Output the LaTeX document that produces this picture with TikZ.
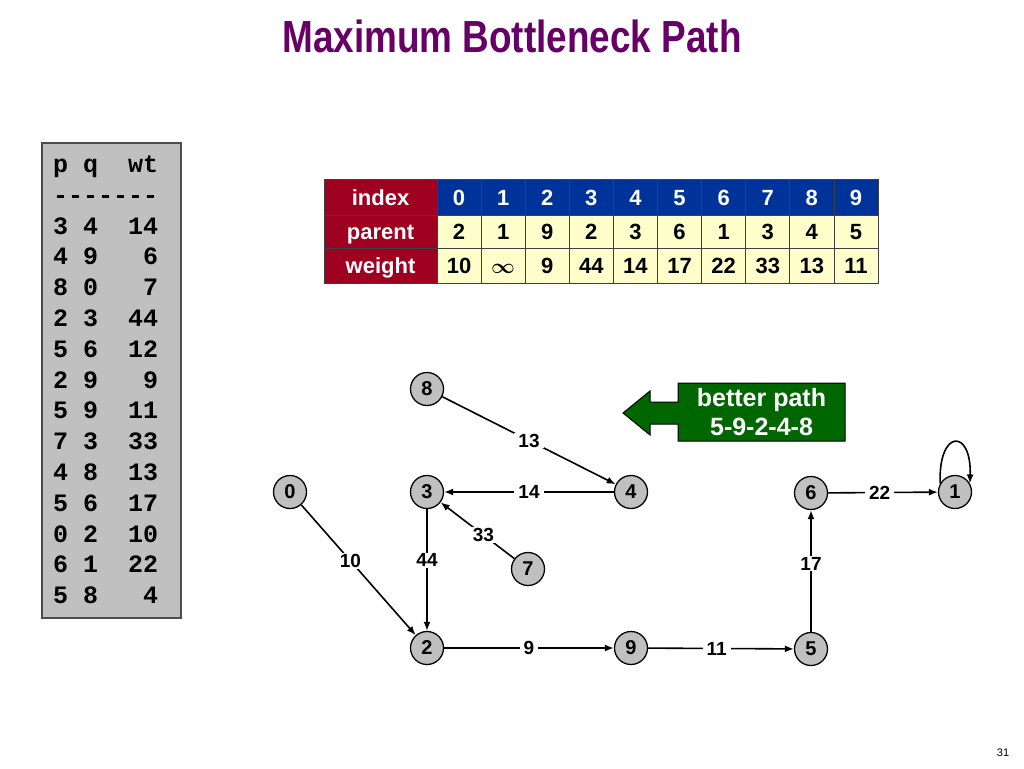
\documentclass[tikz,border=0pt]{standalone}
\usepackage{fontspec}
\setmainfont{Liberation Sans}
\setmonofont{Liberation Mono}
\usepackage{xcolor}
\usetikzlibrary{arrows.meta}
\definecolor{titlepurple}{RGB}{102,0,102}
\definecolor{hdred}{RGB}{160,0,32}
\definecolor{idxblue}{RGB}{0,51,153}
\definecolor{cellyellow}{RGB}{255,255,204}
\definecolor{vgray}{RGB}{192,192,192}
\definecolor{pathgreen}{RGB}{0,102,0}
\newcommand{\infwt}{\mbox{\boldmath$\infty$}}

\begin{document}
\begin{tikzpicture}[x=1pt,y=-1pt,
  vertex/.style={circle,draw,line width=1.3pt,fill=vgray,minimum size=33pt,inner sep=0pt,font=\bfseries\fontsize{20}{20}\selectfont},
  wt/.style={fill=white,inner xsep=4pt,inner ysep=1pt,font=\bfseries\fontsize{19}{19}\selectfont},
  arr/.style={line width=1.6pt,-{Latex[length=9pt,width=7pt]}},
  cell/.style={draw=black!75,line width=0.8pt,minimum width=44.1pt,inner sep=0pt,text height=16pt,text depth=0pt,font=\bfseries\fontsize{22}{22}\selectfont},
  hd/.style={cell,fill=hdred,text=white,minimum width=113pt},
  edgerow/.style={anchor=west,inner sep=0pt,text height=15pt,text depth=0pt,font=\ttfamily\bfseries\fontsize{25}{25}\selectfont}
]
\useasboundingbox (0,0) rectangle (1024,768);
\node (title) at (512,36) {\scalebox{0.82}[1]{\color{titlepurple}\bfseries\fontsize{45}{45}\selectfont Maximum Bottleneck Path}};
% edge list
\draw[fill=vgray,draw=black!70,line width=1.5pt] (42,143) rectangle (181,618);
\foreach\x[count=\i from 0] in {p~q~~wt,-------,3~4~~14,4~9~~~6,8~0~~~7,2~3~~44,5~6~~12,2~9~~~9,5~9~~11,7~3~~33,4~8~~13,5~6~~17,0~2~~10,6~1~~22,5~8~~~4}{\node[edgerow] (row\i) at (53,165+30.8*\i){\x};};
% table
\node[hd,minimum height=36pt] (hidx) at (380.5,197) {index};
\node[hd,minimum height=33pt] (hpar) at (380.5,231.5) {parent};
\node[hd,minimum height=35pt] (hwt) at (380.5,265.5) {weight};
\foreach\i in {0,...,9}{\node[cell,fill=idxblue,text=white,minimum height=36pt] (idx\i) at (459.05+44.1*\i,197){\i};};
\foreach\x[count=\i from 0] in {2,1,9,2,3,6,1,3,4,5}{\node[cell,fill=cellyellow,minimum height=33pt] (par\i) at (459.05+44.1*\i,231.5){\x};};
\foreach\x[count=\i from 0] in {10,\infwt,9,44,14,17,22,33,13,11}{\node[cell,fill=cellyellow,minimum height=35pt] (wt\i) at (459.05+44.1*\i,265.5){\x};};
% graph
\node[vertex] (n8) at (427,389) {8};
\node[vertex] (n0) at (290,492) {0};
\node[vertex] (n3) at (427,492) {3};
\node[vertex] (n4) at (631,492) {4};
\node[vertex] (n7) at (528,569) {7};
\node[vertex] (n2) at (427,648) {2};
\node[vertex] (n9) at (631,648) {9};
\node[vertex] (n5) at (811,649) {5};
\node[vertex] (n6) at (811,493) {6};
\node[vertex] (n1) at (955,492) {1};
\draw[arr] (n8) -- node[wt,pos=0.5] {13} (n4);
\draw[arr] (n4) -- node[wt] {14} (n3);
\draw[arr] (n7) -- node[wt,pos=0.42] {33} (n3);
\draw[arr] (n3) -- node[wt,pos=0.42] {44} (n2);
\draw[arr] (n0) -- node[wt,pos=0.43] {10} (n2);
\draw[arr] (n2) -- node[wt] {9} (n9);
\draw[arr] (n9) -- node[wt,pos=0.47] {11} (n5);
\draw[arr] (n5) -- node[wt,pos=0.56] {17} (n6);
\draw[arr] (n6) -- node[wt,pos=0.47] {22} (n1);
\draw[arr] (n1.150) .. controls +(-2,-55) and +(2,-55) .. (n1.30);
% better path callout
\draw[fill=pathgreen,draw=black,line width=1pt] (623,413) -- (650,391) -- (650,402) -- (678,402) -- (678,383) -- (845,383) -- (845,441) -- (678,441) -- (678,424) -- (650,424) -- (650,435) -- cycle;
\node[text=white,align=center,font=\bfseries\fontsize{25}{29}\selectfont] (better) at (761.5,412) {better path\\5-9-2-4-8};
\node (pagenum) at (1003,753) {\fontsize{11}{11}\selectfont 31};
\end{tikzpicture}
\end{document}
